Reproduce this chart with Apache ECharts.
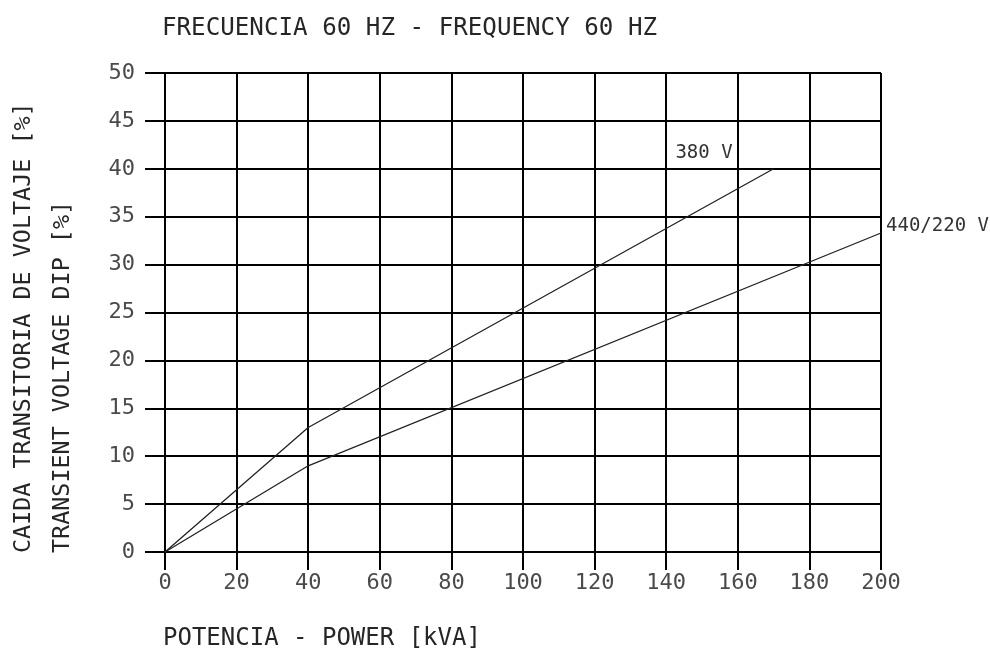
<!DOCTYPE html>
<html>
<head>
<meta charset="utf-8">
<script src="https://cdn.jsdelivr.net/npm/echarts@6/dist/echarts.min.js"></script>
<style>
html,body{margin:0;padding:0;background:#fff;}
#chart{width:990px;height:648px;}
</style>
</head>
<body>
<div id="chart"></div>
<script>
// Data
var powerTicks = [0, 20, 40, 60, 80, 100, 120, 140, 160, 180, 200];
var dipTicks = [0, 5, 10, 15, 20, 25, 30, 35, 40, 45, 50];
var v380 = [[0, 0], [40, 13], [170, 40]];
var v440 = [[0, 0], [40, 9], [200, 33.3]];
var seriesNames = ['380 V', '440/220 V'];
var titleText = 'FRECUENCIA 60 HZ - FREQUENCY 60 HZ';
var xName = 'POTENCIA - POWER [kVA]';
var yName1 = 'CAIDA TRANSITORIA DE VOLTAJE [%]';
var yName2 = 'TRANSIENT VOLTAGE DIP [%]';

var FONT = 'DejaVu Sans Mono';
var chart = echarts.init(document.getElementById('chart'), null, {renderer: 'canvas'});

var axisCommon = {
  type: 'value',
  axisLine: {show: true, lineStyle: {color: '#000', width: 2}},
  axisTick: {show: true, inside: false, lineStyle: {color: '#000', width: 2}},
  splitLine: {show: true, lineStyle: {color: '#000', width: 2}},
  axisLabel: {fontFamily: FONT, fontSize: 22, color: '#4a4a4a'}
};

var option = {
  backgroundColor: '#fff',
  animation: false,
  grid: {left: 165, right: 109, top: 73, bottom: 96, containLabel: false},
  xAxis: echarts.util.merge({
    min: powerTicks[0], max: powerTicks[powerTicks.length - 1],
    interval: powerTicks[1] - powerTicks[0],
    axisTick: {length: 18},
    axisLabel: {margin: 20}
  }, axisCommon),
  yAxis: echarts.util.merge({
    min: dipTicks[0], max: dipTicks[dipTicks.length - 1],
    interval: dipTicks[1] - dipTicks[0],
    axisTick: {length: 20},
    axisLabel: {margin: 30}
  }, axisCommon),
  series: [
    {name: seriesNames[0], type: 'line', data: v380, symbol: 'none', silent: true,
     lineStyle: {color: '#222', width: 1.3}},
    {name: seriesNames[1], type: 'line', data: v440, symbol: 'none', silent: true,
     lineStyle: {color: '#222', width: 1.3}}
  ]
};
chart.setOption(option);

var end380 = chart.convertToPixel({gridIndex: 0}, v380[v380.length - 1]);
var end440 = chart.convertToPixel({gridIndex: 0}, v440[v440.length - 1]);

chart.setOption({
  graphic: [
    {type: 'text', x: 162, y: 28.5, silent: true,
     style: {text: titleText, font: '24.2px "' + FONT + '"', fill: '#262626', align: 'left', verticalAlign: 'middle'}},
    {type: 'text', x: 23.5, y: 553, rotation: Math.PI / 2, silent: true,
     style: {text: yName1, font: '23.4px "' + FONT + '"', fill: '#262626', align: 'left', verticalAlign: 'middle'}},
    {type: 'text', x: 62.5, y: 553, rotation: Math.PI / 2, silent: true,
     style: {text: yName2, font: '23.4px "' + FONT + '"', fill: '#262626', align: 'left', verticalAlign: 'middle'}},
    {type: 'text', x: 163, y: 639, silent: true,
     style: {text: xName, font: '24px "' + FONT + '"', fill: '#262626', align: 'left', verticalAlign: 'middle'}},
    {type: 'text', x: end380[0] - 41, y: end380[1] - 16, silent: true,
     style: {text: seriesNames[0], font: '19px "' + FONT + '"', fill: '#333', align: 'right', verticalAlign: 'middle'}},
    {type: 'text', x: end440[0] + 5, y: end440[1] - 7, silent: true,
     style: {text: seriesNames[1], font: '19px "' + FONT + '"', fill: '#333', align: 'left', verticalAlign: 'middle'}}
  ]
});
</script>
</body>
</html>
